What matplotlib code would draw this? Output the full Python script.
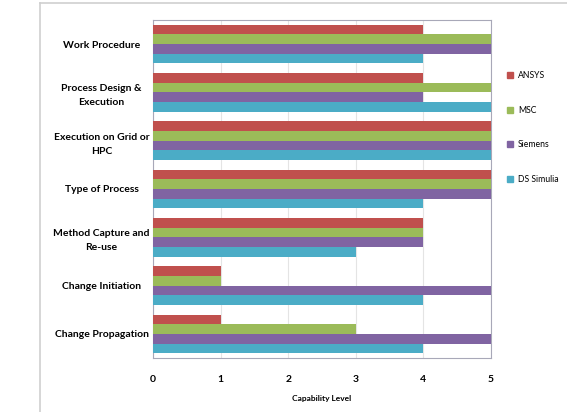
import matplotlib
matplotlib.use("Agg")
import matplotlib.pyplot as plt
import numpy as np
from matplotlib.lines import Line2D

categories = ["Work Procedure", "Process Design &\nExecution", "Execution on Grid or\nHPC",
              "Type of Process", "Method Capture and\nRe-use", "Change Initiation",
              "Change Propagation"]
series = ["ANSYS", "MSC", "Siemens", "DS Simulia"]
ansys = [4, 4, 5, 5, 4, 1, 1]
msc = [5, 5, 5, 5, 4, 1, 3]
siemens = [5, 4, 5, 5, 4, 5, 5]
ds_simulia = [4, 5, 5, 4, 3, 4, 4]
colors = ["#C0504D", "#9BBB59", "#8064A2", "#4BACC6"]

plt.rcParams['font.family'] = ['Lato', 'DejaVu Sans']

fig = plt.figure(figsize=(5.67, 4.12), dpi=100)
ax = fig.add_axes([153/567, 1-358/412, (491-153)/567, (358-20)/412])

n = len(categories)
pos = np.arange(n)[::-1]
h = 0.2
data = [ansys, msc, siemens, ds_simulia]
for i, (vals, name, c) in enumerate(zip(data, series, colors)):
    ax.barh(pos + 0.3 - i*h, vals, height=h, color=c, label=name, zorder=3)

ax.set_xlim(0, 5)
ax.set_ylim(-0.5, n-0.5)
ax.set_xticks(range(6))
ax.set_yticks(pos)
ax.set_yticklabels(categories, fontsize=7.5, fontweight='bold', ha='center',
                   linespacing=1.7)
ax.tick_params(axis='y', length=0, pad=37)
ax.tick_params(axis='x', length=0, pad=12, labelsize=7.5)
for t in ax.get_xticklabels():
    t.set_fontweight('bold')
ax.grid(axis='x', color='#E4E4E4', lw=0.8, zorder=0)
for s in ax.spines.values():
    s.set_color('#A8A8B8')
ax.set_xlabel("Capability Level", fontsize=6, fontweight='bold', labelpad=8)

handles = [plt.Rectangle((0, 0), 1, 1, color=c) for c in colors]
fig.legend(handles, series, loc='upper left', bbox_to_anchor=(499/567, 1-63/412),
           frameon=False, fontsize=6.2, labelspacing=3.0, handlelength=0.7,
           handleheight=0.7, handletextpad=0.6)

fig.add_artist(Line2D([40/567, 40/567], [0, 1-3/412], color='#CFCFCF', lw=1.2))
fig.add_artist(Line2D([40/567, 1], [1-3/412, 1-3/412], color='#CFCFCF', lw=1.2))

fig.savefig("out.png", dpi=100)
